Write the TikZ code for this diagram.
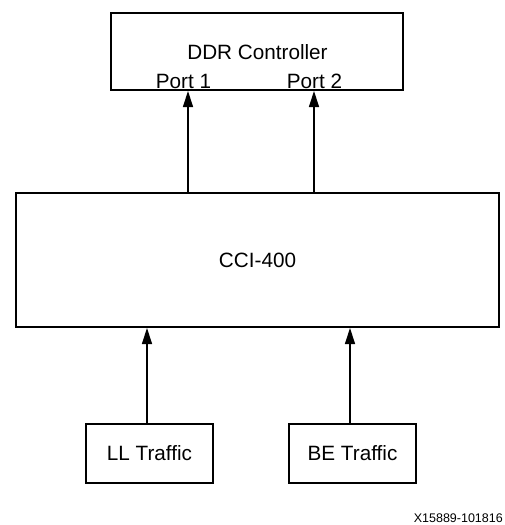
\documentclass[tikz,border=0pt]{standalone}
\usepackage{fontspec}
\setmainfont{Liberation Sans}
\usetikzlibrary{arrows.meta}
\begin{document}
\begin{tikzpicture}[x=1pt,y=-1pt,
  box/.style={draw, line width=2pt, inner sep=0pt, font=\fontsize{20.7}{24}\selectfont},
  lbl/.style={inner sep=0pt, font=\fontsize{20.7}{24}\selectfont, anchor=base},
  conn/.style={line width=1.3pt, -{Triangle[length=16pt,width=10pt]}}
]
\useasboundingbox (0,0) rectangle (504,525);
% boxes
\node[box, minimum width=292pt, minimum height=77pt] (ddr) at (257,51.5) {};
\node[box, minimum width=483pt, minimum height=134pt] (cci) at (257.5,260) {CCI-400};
\node[box, minimum width=127pt, minimum height=59pt] (ll) at (149.5,453.5) {LL Traffic};
\node[box, minimum width=127pt, minimum height=59pt] (be) at (352.5,453.5) {BE Traffic};
% labels in DDR box
\node[lbl] (ddrlbl) at (257.5,59.3) {DDR Controller};
\node[lbl] (port1) at (183.5,88) {Port 1};
\node[lbl] (port2) at (314.5,88) {Port 2};
% connector columns
\coordinate (c1) at (188,0);
\coordinate (c2) at (314,0);
\coordinate (c3) at (147,0);
\coordinate (c4) at (350,0);
% connectors
\draw[conn] (cci.north -| c1) -- (ddr.south -| c1);
\draw[conn] (cci.north -| c2) -- (ddr.south -| c2);
\draw[conn] (ll.north -| c3) -- (cci.south -| c3);
\draw[conn] (be.north -| c4) -- (cci.south -| c4);
% figure id
\node[inner sep=0pt, anchor=base east, font=\fontsize{12.5}{15}\selectfont] (figid) at (503,522) {X15889-101816};
\end{tikzpicture}
\end{document}
